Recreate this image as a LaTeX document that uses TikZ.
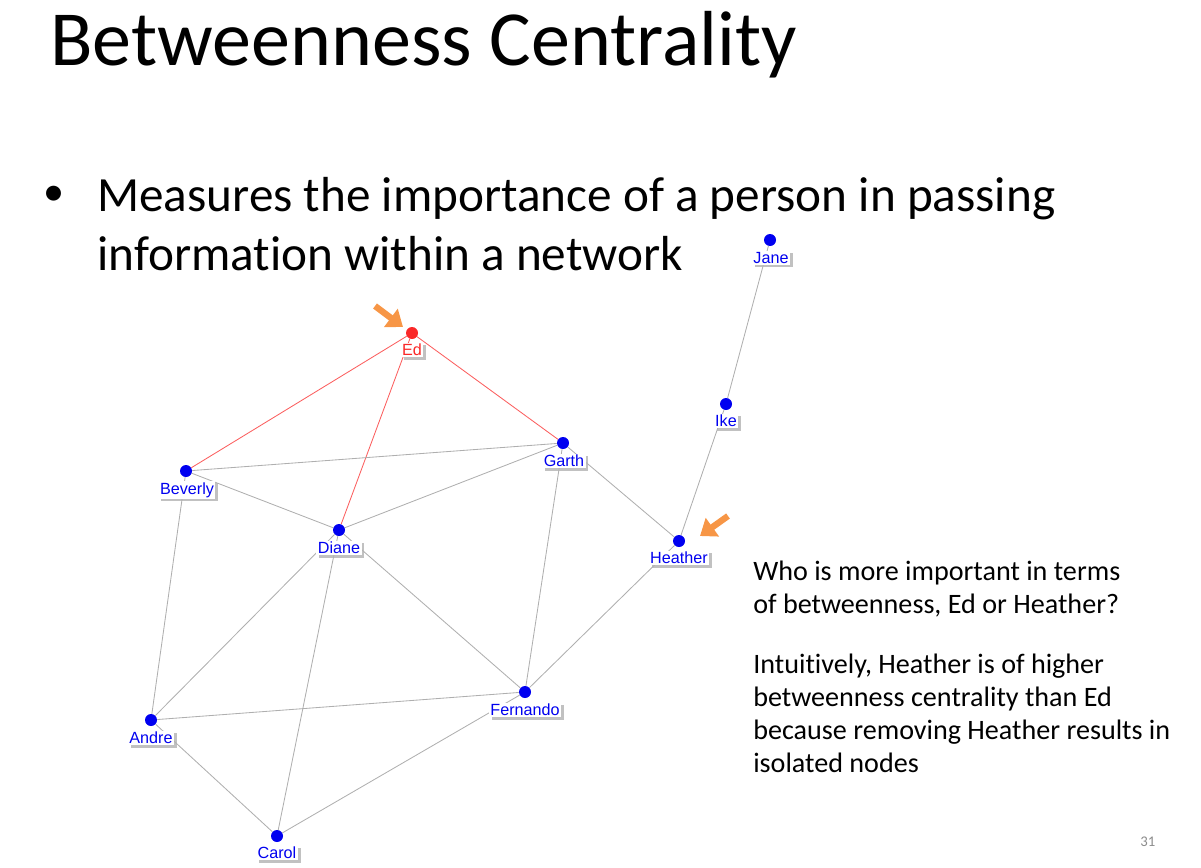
\documentclass[tikz,border=0pt]{standalone}
\usepackage{fontspec}
\setmainfont{Carlito}[Ligatures=NoCommon]
\newfontfamily\graphfont{Liberation Sans}
\definecolor{dotblue}{RGB}{0, 0, 240}
\definecolor{edred}{RGB}{250, 40, 40}
\definecolor{edgegray}{RGB}{175, 175, 175}
\definecolor{pointorange}{RGB}{247, 150, 70}
\usetikzlibrary{arrows.meta, shadows}

\begin{document}
\begin{tikzpicture}[x=0.025cm, y=-0.025cm,
    person/.style={circle, fill=dotblue, inner sep=0pt, minimum size=0.3cm},
    tag/.style={fill=white, text=dotblue, inner sep=1pt, font=\graphfont\fontsize{11.5}{13}\selectfont,
                drop shadow={shadow xshift=0.07cm, shadow yshift=-0.06cm, fill=black!30, opacity=0.8}},
    link/.style={edgegray, line width=0.6pt},
    redlink/.style={edred!75, line width=0.6pt},
    pointer/.style={pointorange, line width=4.5pt, -{Triangle[length=0.38cm, width=0.55cm]}},
    line/.style={anchor=base west, inner sep=0pt}]
    \useasboundingbox (0,0) rectangle (1201,867);

    % title and bullet
    \node[line, font=\fontsize{55.5}{60}\selectfont] (title) at (50,66) {Betweenness Centrality};
    \node[font=\fontsize{30}{34}\selectfont, inner sep=0pt] (bullet) at (54,196) {•};
    \node[line, font=\fontsize{35}{40}\selectfont] (textA) at (97,211) {Measures the importance of a person in passing};
    \node[line, font=\fontsize{35}{40}\selectfont] (textB) at (97,270) {information within a network};

    % people
    \node[person] (jane) at (770,240) {};
    \node[person, fill=edred] (ed) at (412,333) {};
    \node[person] (ike) at (726,404) {};
    \node[person] (garth) at (563,443) {};
    \node[person] (beverly) at (186,471) {};
    \node[person] (diane) at (339,530) {};
    \node[person] (heather) at (679,541) {};
    \node[person] (fernando) at (525,692) {};
    \node[person] (andre) at (151,720) {};
    \node[person] (carol) at (277,836) {};

    % links
    \draw[redlink] (ed) -- (beverly);
    \draw[redlink] (ed) -- (diane);
    \draw[redlink] (ed) -- (garth);
    \draw[link] (beverly) -- (garth);
    \draw[link] (beverly) -- (diane);
    \draw[link] (beverly) -- (andre);
    \draw[link] (diane) -- (garth);
    \draw[link] (garth) -- (fernando);
    \draw[link] (garth) -- (heather);
    \draw[link] (diane) -- (andre);
    \draw[link] (diane) -- (carol);
    \draw[link] (diane) -- (fernando);
    \draw[link] (andre) -- (fernando);
    \draw[link] (andre) -- (carol);
    \draw[link] (carol) -- (fernando);
    \draw[link] (fernando) -- (heather);
    \draw[link] (heather) -- (ike);
    \draw[link] (ike) -- (jane);

    % names
    \node[tag] (janeL) at (771,258) {Jane};
    \node[tag, text=edred] (edL) at (412,350) {Ed};
    \node[tag] (ikeL) at (726,421) {Ike};
    \node[tag] (garthL) at (564,461) {Garth};
    \node[tag] (beverlyL) at (187,490) {Beverly};
    \node[tag] (dianeL) at (339,548) {Diane};
    \node[tag] (heatherL) at (679,558) {Heather};
    \node[tag] (fernandoL) at (525,710) {Fernando};
    \node[tag] (andreL) at (151,738) {Andre};
    \node[tag] (carolL) at (277,853) {Carol};

    % orange pointers
    \coordinate (edP) at (375,306);
    \coordinate (heatherP) at (728,516);
    \draw[pointer] (edP) -- (403,327);
    \draw[pointer] (heatherP) -- (700,536);

    % question
    \node[line, font=\fontsize{20}{24}\selectfont] (q1) at (753,580) {Who is more important in terms};
    \node[line, font=\fontsize{20}{24}\selectfont] (q2) at (753,613) {of betweenness, Ed or Heather?};
    \node[line, font=\fontsize{20}{24}\selectfont] (a1) at (753,673) {Intuitively, Heather is of higher};
    \node[line, font=\fontsize{20}{24}\selectfont] (a2) at (753,706) {betweenness centrality than Ed};
    \node[line, font=\fontsize{20}{24}\selectfont] (a3) at (753,739) {because removing Heather results in};
    \node[line, font=\fontsize{20}{24}\selectfont] (a4) at (753,772) {isolated nodes};

    \node[line, text=black!45, font=\fontsize{10.5}{12}\selectfont] (page) at (1140,846) {31};
\end{tikzpicture}
\end{document}
